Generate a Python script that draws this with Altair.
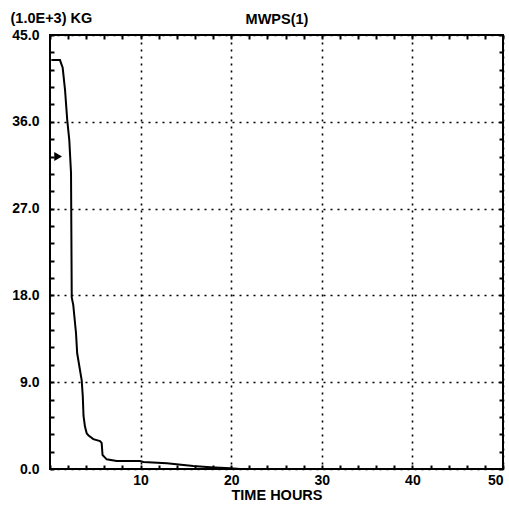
import altair as alt
import pandas as pd

# ---- data ----
time_h = [0.15, 0.6, 1.1, 1.4, 1.66, 1.9, 2.13, 2.32, 2.4, 2.57, 2.65, 2.87, 3.0,
          3.5, 3.62, 3.7, 3.86, 4.05, 4.23, 4.78, 5.52, 5.7, 5.8, 6.26, 7.36,
          9.93, 10.3, 12.9, 15.8, 17.7, 19.9, 21.0, 50.0]
mass_kg = [42.4, 42.4, 42.4, 41.6, 39.3, 36.2, 34.1, 30.7, 17.8, 17.0, 16.2, 14.1, 12.0,
           9.2, 7.5, 5.5, 4.4, 3.7, 3.5, 3.1, 2.9, 2.7, 1.45, 1.0, 0.83,
           0.83, 0.73, 0.59, 0.31, 0.18, 0.07, 0.0, 0.0]

arrow_t = [0.9]
arrow_v = [32.4]

x_major = [10, 20, 30, 40, 50]
y_major = [0, 9, 18, 27, 36, 45]
x_minor = [0, 2, 4, 6, 8, 10, 12, 14, 16, 18, 20, 22, 24, 26, 28, 30,
           32, 34, 36, 38, 40, 42, 44, 46, 48, 50]
y_minor = [0, 1.8, 3.6, 5.4, 7.2, 9, 10.8, 12.6, 14.4, 16.2, 18, 19.8, 21.6,
           23.4, 25.2, 27, 28.8, 30.6, 32.4, 34.2, 36, 37.8, 39.6, 41.4, 43.2, 45]

FONT = "Liberation Sans"
TITLE_SIZE = 14.5

df = pd.DataFrame({"t": time_h, "v": mass_kg})
df_arrow = pd.DataFrame({"t": arrow_t, "v": arrow_v})

xscale = alt.Scale(domain=[0, 50], nice=False, zero=False)
yscale = alt.Scale(domain=[0, 45], nice=False, zero=False)

grid_kw = dict(grid=True, gridColor="black", gridDash=[2, 5], gridWidth=1.6,
               gridOpacity=1, ticks=False, domain=False)
lab_kw = dict(labelFont=FONT, labelFontSize=14, labelFontWeight="bold",
              labelColor="black", labelOverlap=False)
title_kw = dict(titleFont=FONT, titleFontSize=TITLE_SIZE, titleFontWeight="bold",
                titleColor="black")

line = alt.Chart(df).mark_line(color="black", strokeWidth=2, clip=True).encode(
    x=alt.X("t:Q", scale=xscale,
            axis=alt.Axis(orient="bottom", values=x_major, format="d",
                          labelPadding=4, title="TIME HOURS", titlePadding=1,
                          **title_kw, **grid_kw, **lab_kw)),
    y=alt.Y("v:Q", scale=yscale,
            axis=alt.Axis(orient="left", values=y_major, format=".1f",
                          labelPadding=11, title="(1.0E+3) KG",
                          titleAngle=0, titleAlign="left", titleBaseline="middle",
                          titleX=-40, titleY=-17, **title_kw, **grid_kw, **lab_kw)),
)

tick_kw = dict(offset=-4, tickSize=4, tickWidth=2, tickColor="black",
               labels=False, domain=False, grid=False)

arrow = alt.Chart(df_arrow).mark_point(shape="triangle-right", filled=True,
                                       color="black", size=80, opacity=1).encode(
    x=alt.X("t:Q", scale=xscale,
            axis=alt.Axis(orient="bottom", values=x_minor, title=None, **tick_kw)),
    y=alt.Y("v:Q", scale=yscale,
            axis=alt.Axis(orient="left", values=y_minor, title=None, **tick_kw)),
)

ghost = alt.Chart(df_arrow).mark_point(opacity=0).encode(
    x=alt.X("t:Q", scale=xscale,
            axis=alt.Axis(orient="top", values=x_minor, title="MWPS(1)",
                          titleAngle=0, titleAlign="center", titleBaseline="middle",
                          titleY=-20, **title_kw, **tick_kw)),
    y=alt.Y("v:Q", scale=yscale,
            axis=alt.Axis(orient="right", values=y_minor, title=None, **tick_kw)),
)

chart = alt.layer(line, arrow, ghost).resolve_axis(
    x="independent", y="independent"
).properties(
    width=453, height=434,
    autosize=alt.AutoSizeParams(type="none"),
    padding={"left": 50, "top": 35, "right": 6, "bottom": 37},
    background="white",
).configure_view(stroke="black", strokeWidth=2)

chart.save("out.html", embed_options={"renderer": "svg", "actions": False})
